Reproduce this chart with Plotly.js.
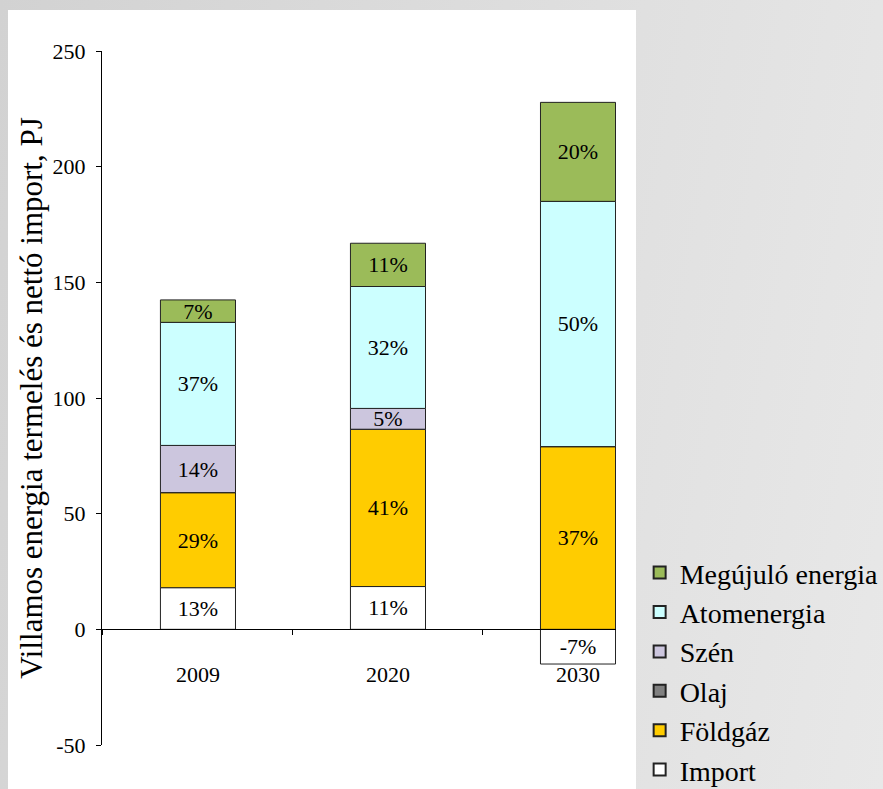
<!DOCTYPE html>
<html>
<head>
<meta charset="utf-8">
<script src="https://cdn.plot.ly/plotly-3.0.1.min.js"></script>
<style>
  html, body { margin:0; padding:0; }
  body { width:883px; height:789px; overflow:hidden;
         background: linear-gradient(100deg, #d2d2d2 0%, #dcdcdc 45%, #e8e8e8 100%); position:relative; }
  #panel { position:absolute; left:8px; top:10px; width:628px; height:779px; background:#ffffff; }
  #chart { position:absolute; left:0; top:0; width:883px; height:789px; }
</style>
</head>
<body>
<div id="panel"></div>
<div id="chart"></div>
<script>
const years = ['2009', '2020', '2030'];

const importVals   = [18.0, 18.5, -15.0];
const foldgazVals  = [41.1, 68.0, 79.0];
const olajVals     = [0, 0, 0];
const szenVals     = [20.4, 9.0, 0];
const atomVals     = [53.2, 52.7, 106.0];
const megujuloVals = [9.7, 18.7, 42.8];

const importLbl   = ['13%', '11%', '-7%'];
const foldgazLbl  = ['29%', '41%', '37%'];
const olajLbl     = ['', '', ''];
const szenLbl     = ['14%', '5%', ''];
const atomLbl     = ['37%', '32%', '50%'];
const megujuloLbl = ['7%', '11%', '20%'];

const yTicks = [-50, 0, 50, 100, 150, 200, 250];
const yTickText = ['-50', '0', '50', '100', '150', '200', '250'];

const serif = "'Liberation Serif', 'Times New Roman', serif";
const yMin = -50, yMax = 250;

function tr(name, vals, lbl, color) {
  return {
    type: 'bar', name: name, x: years, y: vals, text: lbl,
    textposition: 'inside', insidetextanchor: 'middle', textangle: 0,
    constraintext: 'none', cliponaxis: false,
    insidetextfont: {family: serif, size: 22, color: '#000'},
    marker: {color: color, line: {color: '#222', width: 1}},
    hoverinfo: 'name+y'
  };
}

const data = [
  tr('Import', importVals, importLbl, '#ffffff'),
  tr('Földgáz', foldgazVals, foldgazLbl, '#ffcc00'),
  tr('Olaj', olajVals, olajLbl, '#808080'),
  tr('Szén', szenVals, szenLbl, '#ccc6de'),
  tr('Atomenergia', atomVals, atomLbl, '#ccffff'),
  tr('Megújuló energia', megujuloVals, megujuloLbl, '#9bbb59')
];

const layout = {
  width: 883, height: 789,
  margin: {l: 102, r: 267, t: 51, b: 44, autoexpand: false},
  paper_bgcolor: 'rgba(0,0,0,0)', plot_bgcolor: 'rgba(0,0,0,0)',
  barmode: 'relative', bargap: 0.605,
  font: {family: serif, size: 22, color: '#000'},
  uniformtext: {mode: false},
  xaxis: {
    type: 'category', range: [-0.505, 2.2],
    anchor: 'free', position: (0 - yMin) / (yMax - yMin),
    showline: true, linecolor: '#000', linewidth: 1,
    ticks: 'outside', tickson: 'boundaries', ticklen: 5, tickcolor: '#000',
    ticklabelstandoff: 25,
    showgrid: false, zeroline: false,
    tickfont: {family: serif, size: 22, color: '#000'}
  },
  yaxis: {
    range: [yMin, yMax], tickmode: 'array', tickvals: yTicks, ticktext: yTickText,
    showline: true, linecolor: '#000', linewidth: 1,
    ticks: 'outside', ticklen: 5, tickcolor: '#000',
    ticklabelstandoff: 6,
    showgrid: false, zeroline: false,
    tickfont: {family: serif, size: 22, color: '#000'},
    title: {text: 'Villamos energia termelés és nettó import, PJ',
            font: {family: serif, size: 31, color: '#000'}, standoff: 0}
  },
  legend: {
    traceorder: 'reversed', x: 1.046, xanchor: 'left', y: 0.284, yanchor: 'top',
    bgcolor: 'rgba(0,0,0,0)', font: {family: serif, size: 28, color: '#000'},
    itemsizing: 'constant', tracegroupgap: 0
  },
  showlegend: true
};

Plotly.newPlot('chart', data, layout, {displayModeBar: false, staticPlot: true});
</script>
</body>
</html>
